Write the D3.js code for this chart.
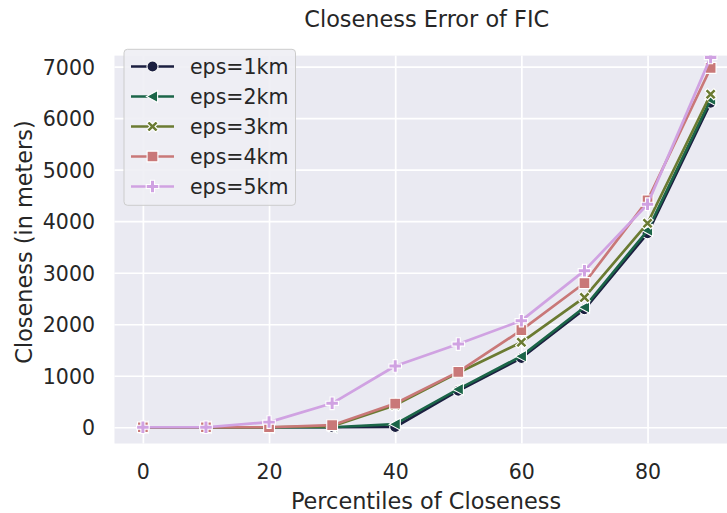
<!DOCTYPE html>
<html>
<head>
<meta charset="utf-8">
<script src="https://cdn.jsdelivr.net/npm/d3@7"></script>
<style>
  html, body { margin: 0; padding: 0; background: #ffffff; }
  svg { display: block; font-family: "DejaVu Sans", sans-serif; }
</style>
</head>
<body>
<svg id="chart" width="727" height="513"></svg>
<script>
// Percentile positions along the x axis
const percentiles = [0, 10, 20, 30, 40, 50, 60, 70, 80, 90];

// Closeness error (meters) for each eps setting
const eps1km = [0, 0, 0, 0, 5, 710, 1345, 2290, 3765, 6300];
const eps2km = [0, 0, 0, 0, 60, 740, 1380, 2330, 3820, 6360];
const eps3km = [0, 0, 0, 20, 430, 1060, 1650, 2520, 3960, 6465];
const eps4km = [0, 0, 0, 40, 460, 1075, 1885, 2800, 4405, 6975];
const eps5km = [0, 0, 100, 465, 1190, 1615, 2070, 3040, 4330, 7180];

const seriesNames = ["eps=1km", "eps=2km", "eps=3km", "eps=4km", "eps=5km"];
const seriesValues = [eps1km, eps2km, eps3km, eps4km, eps5km];
const seriesColors = ["#1b1f40", "#1b6548", "#6b7b32", "#c97878", "#d0a2e2"];
const seriesMarkers = ["circle", "triangleLeft", "x", "square", "plus"];

const xTicks = [0, 20, 40, 60, 80];
const yTicks = [0, 1000, 2000, 3000, 4000, 5000, 6000, 7000];

const svg = d3.select("#chart");
const plot = { left: 114.5, right: 739, top: 55.6, bottom: 443.5 };

const x = d3.scaleLinear().domain([-4.5, 94.5]).range([plot.left, plot.right]);
const y = d3.scaleLinear().domain([-315, 7215]).range([plot.bottom, plot.top]);

// Axes background
svg.append("rect")
  .attr("x", plot.left).attr("y", plot.top)
  .attr("width", plot.right - plot.left).attr("height", plot.bottom - plot.top)
  .attr("fill", "#eaeaf2");

svg.append("defs").append("clipPath").attr("id", "plotClip")
  .append("rect")
  .attr("x", plot.left).attr("y", plot.top)
  .attr("width", plot.right - plot.left).attr("height", plot.bottom - plot.top);

// Grid lines via axes with full-length ticks
const gx = svg.append("g")
  .attr("transform", `translate(0,${plot.bottom})`)
  .call(d3.axisBottom(x).tickValues(xTicks).tickSize(-(plot.bottom - plot.top)).tickFormat(d3.format("d")));
const gy = svg.append("g")
  .attr("transform", `translate(${plot.left},0)`)
  .call(d3.axisLeft(y).tickValues(yTicks).tickSize(-(plot.right - plot.left)).tickPadding(19.5).tickFormat(d3.format("d")));

[gx, gy].forEach(g => {
  g.select(".domain").remove();
  g.selectAll(".tick line").attr("stroke", "#ffffff").attr("stroke-width", 1.7);
  g.selectAll(".tick text")
    .attr("fill", "#262626")
    .style("font-size", "20.5px")
    .style("font-family", "'DejaVu Sans', sans-serif");
});
gx.selectAll(".tick text").attr("y", 35.5).attr("dy", null);
gy.selectAll(".tick text").attr("dy", "0.36em");

// Marker shapes
function crossPath(s, t) {
  const a = s / 2, w = t / 2;
  return `M${-w},${-a}H${w}V${-w}H${a}V${w}H${w}V${a}H${-w}V${w}H${-a}V${-w}H${-w}Z`;
}
function markerPath(kind, s) {
  switch (kind) {
    case "circle": return d3.symbol(d3.symbolCircle, s * s * Math.PI / 4 * 0.85)();
    case "square": { const h = s / 2 * 0.9; return `M${-h},${-h}H${h}V${h}H${-h}Z`; }
    case "triangleLeft": { const h = s / 2; return `M${-h},0L${h * 0.85},${-h}L${h * 0.85},${h}Z`; }
    case "plus": return crossPath(s * 1.05, s * 0.34);
    case "x": return crossPath(s * 1.05, s * 0.3);
    default: return "";
  }
}

function drawMarker(g, kind, color, size) {
  g.append("path").attr("d", markerPath(kind, size))
    .attr("transform", kind === "x" ? "rotate(45)" : null)
    .attr("fill", color).attr("stroke", "#ffffff").attr("stroke-width", 1.1);
}

const line = d3.line().x((d, i) => x(percentiles[i])).y(d => y(d));
const dataLayer = svg.append("g").attr("clip-path", "url(#plotClip)");

seriesValues.forEach((vals, si) => {
  const g = dataLayer.append("g");
  g.append("path").datum(vals)
    .attr("d", line)
    .attr("fill", "none")
    .attr("stroke", seriesColors[si])
    .attr("stroke-width", 2.7)
    .attr("stroke-linejoin", "round")
    .attr("stroke-linecap", "round");
  vals.forEach((v, i) => {
    const m = g.append("g").attr("transform", `translate(${x(percentiles[i])},${y(v)})`);
    drawMarker(m, seriesMarkers[si], seriesColors[si], 12);
  });
});

// Title and axis labels
svg.append("text")
  .attr("x", (plot.left + plot.right) / 2).attr("y", 27.3)
  .attr("text-anchor", "middle")
  .attr("fill", "#262626")
  .style("font-size", "22.4px")
  .text("Closeness Error of FIC");

svg.append("text")
  .attr("x", 426).attr("y", 509)
  .attr("text-anchor", "middle")
  .attr("fill", "#262626")
  .style("font-size", "22.4px")
  .text("Percentiles of Closeness");

svg.append("text")
  .attr("transform", "translate(32,242) rotate(-90)")
  .attr("text-anchor", "middle")
  .attr("fill", "#262626")
  .style("font-size", "22.4px")
  .text("Closeness (in meters)");

// Legend
const legend = svg.append("g");
legend.append("rect")
  .attr("x", 124).attr("y", 49.3)
  .attr("width", 171.5).attr("height", 156)
  .attr("rx", 3.5)
  .attr("fill", "#eeeef4").attr("fill-opacity", 0.9)
  .attr("stroke", "#cccccc").attr("stroke-width", 1);

seriesNames.forEach((name, i) => {
  const cy = 66.5 + i * 30;
  const row = legend.append("g");
  row.append("line")
    .attr("x1", 131).attr("x2", 174).attr("y1", cy).attr("y2", cy)
    .attr("stroke", seriesColors[i]).attr("stroke-width", 2.7);
  const m = row.append("g").attr("transform", `translate(152.5,${cy})`);
  drawMarker(m, seriesMarkers[i], seriesColors[i], 12);
  row.append("text")
    .attr("x", 190).attr("y", cy).attr("dy", "0.36em")
    .attr("fill", "#262626")
    .style("font-size", "20.5px")
    .text(name);
});
</script>
</body>
</html>
